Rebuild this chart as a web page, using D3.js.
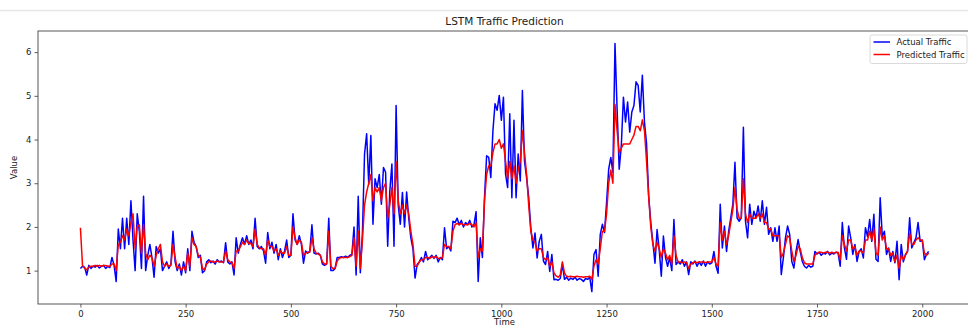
<!DOCTYPE html>
<html>
<head>
<meta charset="utf-8">
<script src="https://cdn.jsdelivr.net/npm/d3@7/dist/d3.min.js"></script>
<style>
  html, body { margin: 0; padding: 0; background: #fff; }
  svg { display: block; }
  text { font-family: "DejaVu Sans", sans-serif; fill: #222; }
</style>
</head>
<body>
<div id="chart"></div>
<script>
const timeStep = 5;

const actualTraffic = [
  1.05, 1.1, 1.08, 0.9, 1.12, 1.05, 1.1, 1.08, 1.12, 1.06, 1.1, 1.12, 1.05, 1.1, 1.07, 1.3, 1.12, 0.75, 1.95, 1.5,
  2.2, 1.5, 2.2, 1.6, 2.6, 1.7, 1.0, 2.3, 1.9, 1.05, 2.7, 1.0, 1.35, 1.6, 1.3, 0.85, 1.55, 1.4, 1.5, 1.0,
  1.1, 1.2, 1.05, 1.15, 1.9, 1.2, 1.0, 1.15, 0.9, 1.2, 0.95, 1.5, 1.0, 1.9, 1.65, 1.55, 1.3, 1.35, 0.95, 1.0,
  1.2, 1.25, 1.18, 1.22, 1.15, 1.25, 1.2, 1.22, 1.18, 1.64, 1.2, 1.15, 1.2, 0.9, 1.75, 1.4, 1.6, 1.75, 1.6, 1.8,
  1.6, 1.7, 1.5, 2.2, 1.55, 1.5, 1.55, 1.45, 1.17, 1.87, 1.5, 1.65, 1.4, 1.6, 1.25, 1.5, 1.3, 1.45, 1.7, 1.3,
  1.35, 2.3, 1.7, 1.6, 1.8, 1.6, 1.17, 1.45, 1.4, 1.45, 2.05, 1.4, 1.38, 1.4, 1.35, 1.15, 1.12, 1.15, 2.2, 1.0,
  1.0, 1.05, 1.3, 1.3, 1.32, 1.3, 1.33, 1.3, 1.35, 1.38, 2.0, 0.9, 2.7, 0.95, 1.87, 3.67, 4.13, 2.98, 4.09, 2.06,
  3.1, 2.9, 3.2, 2.52, 3.36, 3.25, 1.56, 2.82, 3.44, 1.56, 4.78, 2.5, 2.06, 2.79, 2.0, 2.8, 2.2, 1.75, 1.5, 0.83,
  1.14, 1.2, 1.3, 1.2, 1.44, 1.25, 1.3, 1.35, 1.28, 1.35, 1.2, 1.3, 1.25, 1.98, 1.5, 1.55, 1.45, 2.13, 2.1, 2.2,
  2.05, 2.15, 2.0, 2.1, 2.05, 2.15, 2.0, 2.05, 2.35, 0.75, 1.75, 1.3, 2.67, 3.63, 3.59, 3.13, 4.2, 4.82, 4.67, 5.01,
  4.44, 4.97, 3.21, 2.9, 4.59, 2.67, 4.44, 2.67, 3.67, 3.05, 5.12, 3.51, 3.13, 2.67, 1.98, 1.52, 1.86, 1.29, 1.67, 1.83,
  1.22, 1.14, 1.44, 0.98, 1.37, 0.79, 0.8, 0.78, 0.82, 1.15, 0.8, 0.85, 0.78, 0.83, 0.8, 0.85, 0.78, 0.82, 0.8, 0.75,
  0.82, 0.8, 0.85, 0.52, 1.37, 1.48, 0.87, 1.83, 2.06, 1.87, 2.56, 3.32, 3.59, 3.25, 6.2, 4.7, 3.32, 3.86, 4.97, 4.4,
  4.86, 4.17, 4.63, 4.78, 5.32, 5.24, 4.63, 5.47, 4.4, 3.9, 2.71, 2.1, 1.64, 1.17, 1.94, 1.48, 0.87, 1.79, 1.3, 1.1,
  1.3, 1.0, 2.17, 1.14, 1.2, 1.15, 1.25, 1.1, 1.2, 0.91, 1.2, 1.15, 1.22, 1.1, 1.2, 1.12, 1.22, 1.1, 1.2, 1.15,
  1.18, 1.44, 1.1, 0.94, 2.52, 1.52, 2.02, 1.44, 1.9, 2.21, 2.52, 3.48, 2.21, 2.13, 2.21, 4.28, 2.13, 1.75, 2.52, 2.06,
  2.36, 2.21, 2.48, 2.13, 2.6, 2.06, 2.45, 1.83, 1.98, 1.67, 1.98, 1.67, 2.02, 0.91, 1.29, 1.75, 2.02, 1.83, 1.21, 1.06,
  1.44, 1.71, 1.44, 1.21, 1.1, 1.06, 1.12, 1.08, 1.1, 1.44, 1.38, 1.42, 1.35, 1.4, 1.38, 1.44, 1.36, 1.4, 1.38, 1.42,
  1.4, 1.1, 2.1, 1.52, 1.26, 2.02, 1.75, 1.37, 1.6, 1.21, 1.44, 1.5, 1.29, 1.98, 1.78, 2.17, 1.67, 2.29, 1.26, 1.21,
  2.67, 1.78, 1.9, 1.37, 1.52, 1.21, 1.44, 1.18, 1.67, 0.79, 1.6, 1.2, 1.37, 1.44, 2.21, 1.52, 1.64, 1.75, 2.1, 1.67,
  1.7, 1.25, 1.37, 1.44
];

const predictedTraffic = [
  1.98, 1.12, 1.05, 1.02, 1.08, 1.1, 1.1, 1.12, 1.1, 1.12, 1.1, 1.12, 1.12, 1.1, 1.1, 1.15, 1.15, 1.0, 1.6, 1.65,
  1.8, 1.7, 1.95, 1.8, 2.1, 2.3, 1.5, 2.0, 2.05, 1.4, 2.05, 1.4, 1.25, 1.35, 1.3, 1.1, 1.35, 1.5, 1.6, 1.2,
  1.1, 1.15, 1.1, 1.12, 1.6, 1.3, 1.05, 1.1, 1.0, 1.1, 1.0, 1.4, 1.1, 1.75, 1.6, 1.55, 1.35, 1.3, 1.05, 1.02,
  1.15, 1.2, 1.22, 1.2, 1.2, 1.22, 1.2, 1.2, 1.2, 1.45, 1.25, 1.2, 1.18, 1.05, 1.45, 1.45, 1.55, 1.65, 1.6, 1.7,
  1.62, 1.62, 1.55, 1.95, 1.6, 1.52, 1.5, 1.5, 1.35, 1.7, 1.55, 1.55, 1.45, 1.5, 1.35, 1.45, 1.4, 1.4, 1.55, 1.35,
  1.35, 2.0, 1.75, 1.6, 1.7, 1.65, 1.35, 1.4, 1.42, 1.42, 1.75, 1.5, 1.4, 1.38, 1.35, 1.2, 1.15, 1.15, 1.9, 1.1,
  1.05, 1.05, 1.22, 1.28, 1.3, 1.3, 1.3, 1.3, 1.32, 1.35, 1.75, 1.1, 1.9, 1.05, 1.7, 2.5, 2.8, 3.0, 3.2, 2.6,
  2.9, 2.8, 2.9, 2.6, 2.9, 3.0, 2.2, 2.5, 2.9, 2.3, 3.5, 2.6, 2.3, 2.5, 2.3, 2.5, 2.3, 1.9, 1.6, 1.1,
  1.1, 1.2, 1.25, 1.25, 1.3, 1.3, 1.28, 1.32, 1.3, 1.32, 1.28, 1.28, 1.3, 1.6, 1.55, 1.55, 1.5, 1.9, 2.05, 2.08,
  2.05, 2.08, 2.05, 2.05, 2.05, 2.08, 2.05, 2.0, 2.1, 1.3, 1.5, 1.45, 2.6, 3.2, 3.4, 3.4, 3.7, 3.9, 3.9, 4.0,
  3.8, 3.9, 3.5, 3.1, 3.5, 3.1, 3.4, 3.0, 3.3, 3.5, 4.2, 3.7, 3.2, 2.5, 1.9, 1.7, 1.65, 1.45, 1.5, 1.5,
  1.3, 1.25, 1.3, 1.1, 1.2, 0.95, 0.88, 0.85, 0.9, 1.2, 0.95, 0.87, 0.86, 0.87, 0.86, 0.86, 0.87, 0.86, 0.86, 0.85,
  0.86, 0.86, 0.87, 0.8, 1.1, 1.25, 1.15, 1.5, 1.9, 1.9, 2.3, 3.0, 3.3, 3.0, 4.8, 4.2, 3.7, 3.8, 3.9, 3.9,
  3.9, 3.9, 4.0, 4.1, 4.3, 4.3, 4.2, 4.45, 4.2, 3.5, 2.7, 2.0, 1.6, 1.45, 1.65, 1.5, 1.3, 1.5, 1.4, 1.25,
  1.35, 1.15, 1.8, 1.35, 1.2, 1.2, 1.18, 1.2, 1.18, 1.05, 1.15, 1.18, 1.2, 1.18, 1.2, 1.2, 1.2, 1.18, 1.2, 1.2,
  1.2, 1.3, 1.15, 1.1, 2.1, 1.7, 1.9, 1.6, 1.8, 2.1, 2.4, 2.9, 2.4, 2.2, 2.2, 3.1, 2.3, 2.1, 2.3, 2.2,
  2.2, 2.2, 2.3, 2.2, 2.3, 2.1, 2.1, 1.95, 1.95, 1.8, 1.8, 1.8, 1.8, 1.3, 1.4, 1.6, 1.8, 1.75, 1.45, 1.2,
  1.35, 1.55, 1.5, 1.3, 1.18, 1.15, 1.15, 1.15, 1.15, 1.35, 1.4, 1.42, 1.42, 1.4, 1.42, 1.42, 1.4, 1.42, 1.4, 1.42,
  1.42, 1.25, 1.8, 1.6, 1.45, 1.7, 1.7, 1.5, 1.55, 1.35, 1.45, 1.45, 1.4, 1.7, 1.7, 1.9, 1.7, 1.95, 1.4, 1.35,
  2.0, 1.7, 1.8, 1.5, 1.5, 1.35, 1.4, 1.2, 1.35, 1.05, 1.35, 1.25, 1.35, 1.45, 1.85, 1.6, 1.6, 1.7, 1.75, 1.7,
  1.7, 1.4, 1.35, 1.4
];

const xTicks = [0, 250, 500, 750, 1000, 1250, 1500, 1750, 2000];
const yTicks = [1, 2, 3, 4, 5, 6];
const seriesNames = ["Actual Traffic", "Predicted Traffic"];
const seriesColors = ["#0000ff", "#ff0000"];

const width = 968, height = 327;
const margin = { top: 31, right: -3, bottom: 23, left: 38 };

const svg = d3.select("#chart").append("svg")
  .attr("width", width)
  .attr("height", height);

// faint notebook cell border at the top
svg.append("line")
  .attr("x1", 0).attr("x2", width)
  .attr("y1", 10.5).attr("y2", 10.5)
  .attr("stroke", "#e6e6e6")
  .attr("stroke-width", 1.5);

const lastT = (actualTraffic.length - 1) * timeStep;
const xPad = lastT * 0.05;
const allVals = actualTraffic.concat(predictedTraffic);
const yMin = d3.min(allVals), yMax = d3.max(allVals);
const yPad = (yMax - yMin) * 0.05;

const x = d3.scaleLinear()
  .domain([-xPad, lastT + xPad])
  .range([margin.left, width - margin.right]);

const y = d3.scaleLinear()
  .domain([yMin - yPad, yMax + yPad])
  .range([height - margin.bottom, margin.top]);

const plot = svg.append("g");

plot.append("defs").append("clipPath").attr("id", "clip")
  .append("rect")
  .attr("x", margin.left).attr("y", margin.top)
  .attr("width", width - margin.right - margin.left)
  .attr("height", height - margin.bottom - margin.top);

const line = d3.line()
  .x((d, i) => x(i * timeStep))
  .y(d => y(d));

const lines = plot.append("g").attr("clip-path", "url(#clip)");
[actualTraffic, predictedTraffic].forEach((series, k) => {
  lines.append("path")
    .datum(series)
    .attr("fill", "none")
    .attr("stroke", seriesColors[k])
    .attr("stroke-width", 1.5)
    .attr("stroke-linejoin", "round")
    .attr("d", line);
});

// axes
const fmt = d3.format("d");
const xAxis = d3.axisBottom(x).tickValues(xTicks).tickFormat(fmt).tickSize(3.5).tickPadding(3).tickSizeOuter(0);
const yAxis = d3.axisLeft(y).tickValues(yTicks).tickFormat(fmt).tickSize(3.5).tickPadding(3).tickSizeOuter(0);

const gx = svg.append("g")
  .attr("transform", `translate(0,${height - margin.bottom})`)
  .call(xAxis);
const gy = svg.append("g")
  .attr("transform", `translate(${margin.left},0)`)
  .call(yAxis);

[gx, gy].forEach(g => {
  g.select(".domain").remove();
  g.selectAll(".tick line").attr("stroke", "#333").attr("stroke-width", 0.8);
  g.selectAll(".tick text")
    .attr("fill", "#333")
    .style("font-size", "8.5px")
    .style("font-family", "DejaVu Sans, sans-serif");
});

// frame
svg.append("rect")
  .attr("x", margin.left)
  .attr("y", margin.top)
  .attr("width", width - margin.right - margin.left)
  .attr("height", height - margin.bottom - margin.top)
  .attr("fill", "none")
  .attr("stroke", "#444")
  .attr("stroke-width", 0.9);

// title and labels
svg.append("text")
  .attr("x", (margin.left + width - margin.right) / 2)
  .attr("y", 25)
  .attr("text-anchor", "middle")
  .style("font-size", "10.5px")
  .text("LSTM Traffic Prediction");

svg.append("text")
  .attr("x", (margin.left + width - margin.right) / 2)
  .attr("y", 325)
  .attr("text-anchor", "middle")
  .style("font-size", "8.5px")
  .text("Time");

svg.append("text")
  .attr("transform", `translate(17,${(margin.top + height - margin.bottom) / 2}) rotate(-90)`)
  .attr("text-anchor", "middle")
  .style("font-size", "8.5px")
  .text("Value");

// legend
const legend = svg.append("g").attr("transform", "translate(870,35)");
legend.append("rect")
  .attr("width", 97).attr("height", 28.5)
  .attr("rx", 2)
  .attr("fill", "#fff").attr("fill-opacity", 0.8)
  .attr("stroke", "#d0d0d0").attr("stroke-width", 0.8);

seriesNames.forEach((name, i) => {
  const row = legend.append("g").attr("transform", `translate(0,${7 + i * 12.5})`);
  row.append("line")
    .attr("x1", 3.5).attr("x2", 20)
    .attr("stroke", seriesColors[i])
    .attr("stroke-width", 1.5);
  row.append("text")
    .attr("x", 26.5).attr("y", 3)
    .style("font-size", "8.5px")
    .text(name);
});
</script>
</body>
</html>
